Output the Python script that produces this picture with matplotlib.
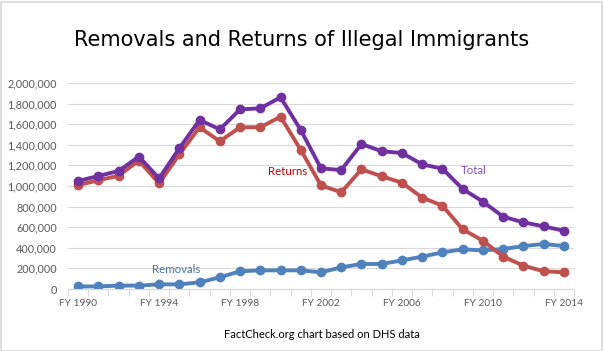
import matplotlib
matplotlib.use('Agg')
import matplotlib.pyplot as plt
from matplotlib.patches import Rectangle
import numpy as np

years = list(range(1990, 2015))
tick_labels = ['FY 1990', 'FY 1994', 'FY 1998', 'FY 2002', 'FY 2006', 'FY 2010', 'FY 2014']

total = [1049000, 1097000, 1146000, 1285000, 1074000, 1366000, 1641000, 1550000,
         1744000, 1754000, 1861000, 1544000, 1171000, 1155000, 1408000, 1337000,
         1320000, 1210000, 1168000, 971000, 848000, 702000, 647000, 608000, 566000]
returns = [1010000, 1055000, 1100000, 1246000, 1026000, 1307000, 1570000, 1434000,
           1570000, 1570000, 1673000, 1350000, 1006000, 939000, 1162000, 1094000,
           1032000, 887000, 809000, 579000, 469000, 314000, 227000, 172000, 162000]
removals = [25000, 25000, 33000, 33000, 45000, 45000, 65000, 113000,
            172000, 181000, 181000, 181000, 162000, 210000, 243000, 243000,
            278000, 314000, 356000, 385000, 375000, 388000, 417000, 437000, 417000]

c_total = '#7030A0'
c_returns = '#C0504D'
c_removals = '#4F81BD'

plt.rcParams['font.family'] = ['Lato', 'DejaVu Sans']

fig = plt.figure(figsize=(6.03, 3.51), dpi=100)
ax = fig.add_axes([68/603, 62/351, 506/603, 206/351])

x = np.arange(len(years))
for vals, col in [(removals, c_removals), (returns, c_returns), (total, c_total)]:
    ax.plot(x, vals, color=col, lw=2.8, marker='o', ms=6, solid_capstyle='round')

ax.set_xlim(-0.5, 24.5)
ax.set_ylim(0, 2000000)
ax.set_yticks(np.arange(0, 2000001, 200000))
ax.set_yticklabels(['{:,}'.format(v) for v in range(0, 2000001, 200000)])
ax.set_xticks(x[::4])
ax.set_xticklabels(tick_labels)
ax.set_xticks(np.arange(-0.5, 25, 1), minor=True)
ax.tick_params(axis='x', which='major', length=0, pad=7, labelsize=7.3, labelcolor='#595959')
ax.tick_params(axis='x', which='minor', length=5, color='#D9D9D9', width=0.8)
ax.tick_params(axis='y', length=0, pad=8, labelsize=7.8, labelcolor='#595959')
ax.grid(axis='y', color='#D9D9D9', lw=0.8)
ax.set_axisbelow(True)
for s in ['top', 'right', 'left']:
    ax.spines[s].set_visible(False)
ax.spines['bottom'].set_color('#D9D9D9')

ax.text(10.33, 1136000, 'Returns', color='#C00000', fontsize=8.3, ha='center', va='center')
ax.text(19.54, 1155000, 'Total', color='#7F52B8', fontsize=8.3, ha='center', va='center')
ax.text(4.84, 194000, 'Removals', color='#4A72A8', fontsize=8.3, ha='center', va='center')

fig.text(0.5, 1 - 40/351, 'Removals and Returns of Illegal Immigrants', ha='center', va='center',
         fontsize=15, color='black', family='DejaVu Sans')
fig.text(322/603, 1 - 334/351, 'FactCheck.org chart based on DHS data', ha='center', va='center',
         fontsize=8, color='black')

fig.patches.append(Rectangle((0.5/603, 0.5/351), 601/603, 349/351, transform=fig.transFigure,
                             fill=False, edgecolor='#D9D9D9', lw=1.2))

fig.savefig('out.png', dpi=100)
